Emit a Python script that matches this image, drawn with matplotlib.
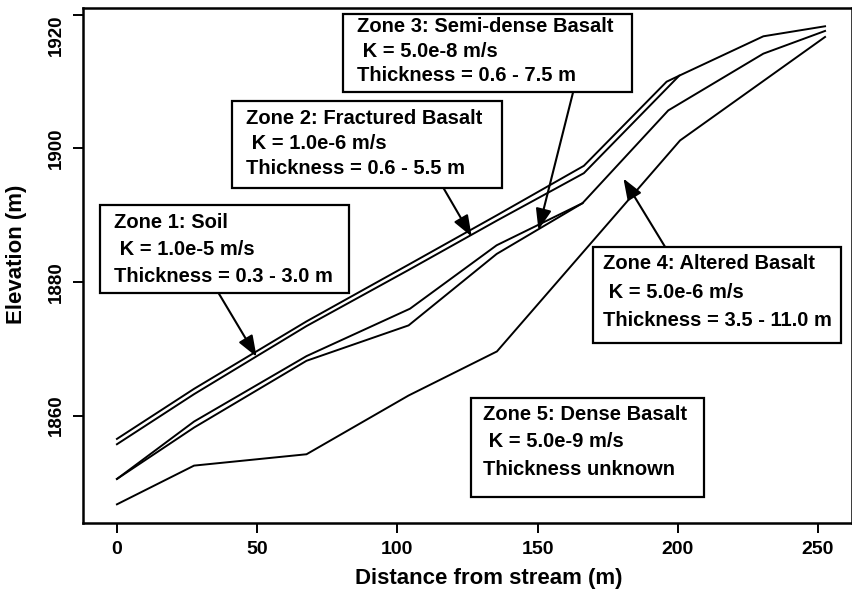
"""
plot.py
Hillslope cross-section: hydrogeologic zone boundaries vs distance from stream.
"""

import matplotlib
matplotlib.use('Agg')
import matplotlib.pyplot as plt
from matplotlib.patches import Rectangle

# ── boundary profiles (distance m, elevation m) ─────────────────────────────
surface_x = [0, 27.5, 67.6, 104, 135.5, 166.5, 196, 201, 230.5, 252.5]
surface_y = [1856.5, 1864.0, 1874.1, 1882.6, 1890.0, 1897.4, 1910.0, 1911.0, 1916.8, 1918.3]

soil_base_x = [0, 27.5, 67.6, 104, 135.5, 166.5, 200.5]
soil_base_y = [1855.7, 1863.2, 1873.4, 1881.8, 1889.2, 1896.3, 1910.9]

fractured_base_x = [0, 27.5, 67.6, 104.5, 135.4, 166, 196.6, 230.5, 252.5]
fractured_base_y = [1850.5, 1859.1, 1868.9, 1876.0, 1885.5, 1891.8, 1905.7, 1914.2, 1917.6]

semidense_base_x = [0, 27.5, 67.6, 104, 135.4, 166]
semidense_base_y = [1850.5, 1858.2, 1868.2, 1873.5, 1884.2, 1891.8]

altered_base_x = [0, 27.5, 67.6, 104, 135.5, 200.8, 252.5]
altered_base_y = [1846.7, 1852.5, 1854.2, 1863.0, 1869.6, 1901.2, 1916.7]

x_ticks = [0, 50, 100, 150, 200, 250]
y_ticks = [1860, 1880, 1900, 1920]

zone_text = [
    ["Zone 1: Soil", " K = 1.0e-5 m/s", "Thickness = 0.3 - 3.0 m"],
    ["Zone 2: Fractured Basalt", " K = 1.0e-6 m/s", "Thickness = 0.6 - 5.5 m"],
    ["Zone 3: Semi-dense Basalt", " K = 5.0e-8 m/s", "Thickness = 0.6 - 7.5 m"],
    ["Zone 4: Altered Basalt", " K = 5.0e-6 m/s", "Thickness = 3.5 - 11.0 m"],
    ["Zone 5: Dense Basalt", " K = 5.0e-9 m/s", "Thickness unknown"],
]

FONT = ['Liberation Sans', 'DejaVu Sans']
plt.rcParams['font.family'] = FONT
plt.rcParams['font.weight'] = 'bold'

fig = plt.figure(figsize=(8.53, 5.89), dpi=100)
ax = fig.add_axes([0.0973, 0.112, 0.9015, 0.874])
fig.patch.set_facecolor('white')

LW = 1.4
for xs, ys in [(surface_x, surface_y), (soil_base_x, soil_base_y),
               (fractured_base_x, fractured_base_y),
               (semidense_base_x, semidense_base_y),
               (altered_base_x, altered_base_y)]:
    ax.plot(xs, ys, color='black', lw=LW, solid_joinstyle='miter')

ax.set_xlim(-12.1, 262.1)
ax.set_ylim(1843.9, 1921.0)

# label boxes: (x0, x1, y_bottom, y_top), text x, line centres
boxes = [
    ((-6.1, 82.8, 1878.3, 1891.5), -1.2, [1888.9, 1884.8, 1880.8]),
    ((41.1, 137.2, 1894.1, 1907.1), 45.9, [1904.5, 1900.7, 1897.0]),
    ((80.5, 183.6, 1908.5, 1920.1), 85.5, [1918.2, 1914.5, 1911.0]),
    ((169.9, 258.1, 1870.8, 1885.3), 173.2, [1882.8, 1878.5, 1874.3]),
    ((126.1, 209.3, 1847.8, 1862.7), 130.6, [1860.1, 1856.1, 1851.9]),
]

for (bx, tx, ty), lines in zip(boxes, zone_text):
    x0, x1, y0, y1 = bx
    ax.add_patch(Rectangle((x0, y0), x1 - x0, y1 - y0, facecolor='white',
                           edgecolor='black', lw=1.6, zorder=3))
    for yy, s in zip(ty, lines):
        ax.text(tx, yy, s, ha='left', va='center', fontsize=14.5,
                fontweight='bold', zorder=4)

# arrows: (tail, tip)
arrows = [
    ((36.3, 1878.3), (49.8, 1868.8)),
    ((116.4, 1894.1), (126.5, 1886.8)),
    ((162.7, 1908.5), (150.3, 1887.8)),
    ((195.4, 1885.3), (180.6, 1895.5)),
]
for tail, tip in arrows:
    ax.annotate("", xy=tip, xytext=tail, zorder=2,
                arrowprops=dict(arrowstyle="-|>,head_length=0.8,head_width=0.3",
                                color='black', lw=1.5, mutation_scale=16,
                                shrinkA=0, shrinkB=0))

ax.set_xticks(x_ticks)
ax.set_yticks(y_ticks)
ax.set_xticklabels([str(v) for v in x_ticks], fontsize=14, fontweight='bold')
ax.set_yticklabels([str(v) for v in y_ticks], fontsize=13.5, fontweight='bold',
                   rotation=90, va='center')
# top label sits below its tick so it stays inside the page
ax.get_yticklabels()[-1].set_va('top')
ax.tick_params(axis='both', direction='out', length=7, width=1.4)
ax.tick_params(axis='x', pad=6)
ax.tick_params(axis='y', pad=6)

for sp in ax.spines.values():
    sp.set_linewidth(1.8)

ax.set_xlabel("Distance from stream (m)", fontsize=16, fontweight='bold', va='center')
ax.xaxis.set_label_coords(0.528, -0.107)
ax.set_ylabel("Elevation (m)", fontsize=16, fontweight='bold', va='center')
ax.yaxis.set_label_coords(-0.086, 0.522)

fig.savefig("out.png", dpi=100, facecolor='white')
